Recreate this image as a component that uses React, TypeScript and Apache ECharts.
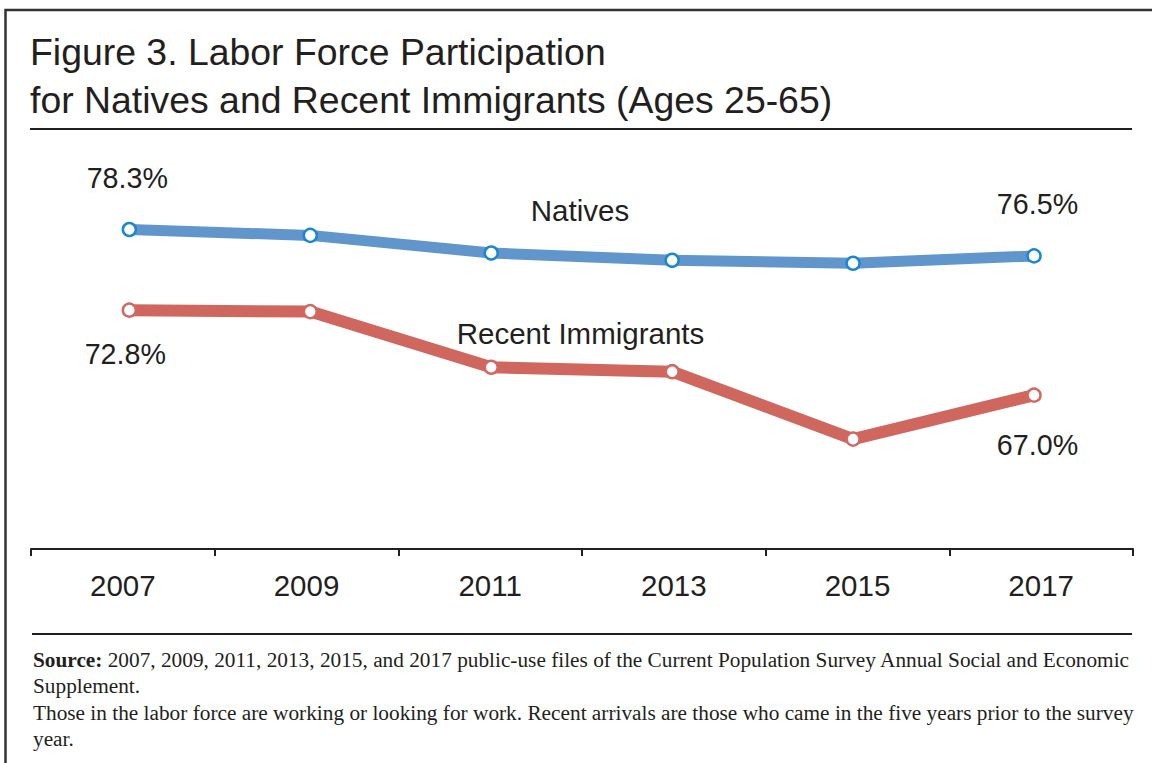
import React, { useEffect, useRef } from "react";
import * as echarts from "echarts";

const years = [2007, 2009, 2011, 2013, 2015, 2017];
const yearLabels = ["2007", "2009", "2011", "2013", "2015", "2017"];
const natives = [78.3, 77.9, 76.7, 76.2, 76.0, 76.5];
const immigrants = [72.8, 72.7, 68.9, 68.6, 64.0, 67.0];
const seriesNames = ["Natives", "Recent Immigrants"];
const titleLines = [
  "Figure 3. Labor Force Participation",
  "for Natives and Recent Immigrants (Ages 25-65)",
];
const sourceLine1 =
  "2007, 2009, 2011, 2013, 2015, and 2017 public-use files of the Current Population Survey Annual Social and Economic";
const sourceLine2 = "Supplement.";
const noteLine1 =
  "Those in the labor force are working or looking for work. Recent arrivals are those who came in the five years prior to the survey";
const noteLine2 = "year.";

const SANS = "'Liberation Sans', Arial, Helvetica, sans-serif";
const SERIF = "'Liberation Serif', 'Times New Roman', serif";
const INK = "#231F20";
const NOTE_SIZE = 21.3;

function buildData(values: number[], firstOffset: number[], lastOffset: number[]) {
  return values.map((v, i) => {
    const item: any = { value: [years[i], v] };
    if (i === 0 || i === values.length - 1) {
      item.label = {
        show: true,
        position: "inside",
        formatter: v.toFixed(1) + "%",
        offset: i === 0 ? firstOffset : lastOffset,
        fontFamily: SANS,
        fontSize: 28.7,
        color: INK,
      };
    }
    return item;
  });
}

export default function App() {
  const ref = useRef<HTMLDivElement>(null);
  useEffect(() => {
    if (!ref.current) return;
    const chart = echarts.init(ref.current, undefined, { renderer: "svg" });
    const option: any = {
      animation: false,
      backgroundColor: "#ffffff",
      grid: { left: 31, right: 19, top: 146, bottom: 214, containLabel: false },
      xAxis: [
        {
          type: "category",
          data: yearLabels,
          boundaryGap: true,
          axisLine: { show: true, lineStyle: { color: INK, width: 2 } },
          axisTick: { show: true, interval: 0, length: 7, lineStyle: { color: INK, width: 2 } },
          axisLabel: { fontFamily: SANS, fontSize: 29.5, color: INK, margin: 21 },
          splitLine: { show: false },
        },
        {
          type: "value",
          show: false,
          min: 2005.913,
          max: 2018.094,
          splitLine: { show: false },
        },
      ],
      yAxis: {
        type: "value",
        show: false,
        min: 56.5,
        max: 84,
        splitLine: { show: false },
      },
      series: [
        {
          name: seriesNames[0],
          type: "line",
          xAxisIndex: 1,
          data: buildData(natives, [-2, -52], [3.5, -52]),
          lineStyle: { color: "#6096CB", width: 11 },
          symbol: "circle",
          symbolSize: 13,
          itemStyle: { color: "#ffffff", borderColor: "#1C87CF", borderWidth: 2.5 },
          label: { show: false },
          z: 3,
        },
        {
          name: seriesNames[1],
          type: "line",
          xAxisIndex: 1,
          data: buildData(immigrants, [-4, 44], [3.5, 50]),
          lineStyle: { color: "#CF675E", width: 12 },
          symbol: "circle",
          symbolSize: 13,
          itemStyle: { color: "#ffffff", borderColor: "#D2685F", borderWidth: 2.5 },
          label: { show: false },
          z: 3,
        },
      ],
      graphic: [
        {
          type: "rect",
          shape: { x: 5.5, y: 10, width: 1300, height: 900 },
          style: { fill: "none", stroke: "#333333", lineWidth: 2.5 },
          silent: true,
        },
        {
          type: "text",
          x: 30,
          y: 52,
          style: { text: titleLines[0], font: `37.4px ${SANS}`, fill: INK, verticalAlign: "middle" },
        },
        {
          type: "text",
          x: 30,
          y: 100,
          style: { text: titleLines[1], font: `37.4px ${SANS}`, fill: INK, verticalAlign: "middle" },
        },
        {
          type: "line",
          shape: { x1: 30, y1: 129, x2: 1132, y2: 129 },
          style: { stroke: INK, lineWidth: 2 },
        },
        {
          type: "text",
          x: 580,
          y: 210,
          style: { text: seriesNames[0], font: `29.5px ${SANS}`, fill: INK, align: "center", verticalAlign: "middle" },
        },
        {
          type: "text",
          x: 580.5,
          y: 333,
          style: { text: seriesNames[1], font: `29.5px ${SANS}`, fill: INK, align: "center", verticalAlign: "middle" },
        },
        {
          type: "line",
          shape: { x1: 32, y1: 634, x2: 1132, y2: 634 },
          style: { stroke: INK, lineWidth: 2 },
        },
        {
          type: "text",
          x: 33,
          y: 660,
          style: {
            text: "{b|Source:} " + sourceLine1,
            fill: INK,
            verticalAlign: "middle",
            font: `${NOTE_SIZE}px ${SERIF}`,
            rich: {
              b: { fontFamily: SERIF, fontSize: NOTE_SIZE, fontWeight: "bold", fill: INK },
            },
          },
        },
        {
          type: "text",
          x: 33,
          y: 686,
          style: { text: sourceLine2, font: `${NOTE_SIZE}px ${SERIF}`, fill: INK, verticalAlign: "middle" },
        },
        {
          type: "text",
          x: 33,
          y: 713,
          style: { text: noteLine1, font: `${NOTE_SIZE}px ${SERIF}`, fill: INK, verticalAlign: "middle" },
        },
        {
          type: "text",
          x: 33,
          y: 739,
          style: { text: noteLine2, font: `${NOTE_SIZE}px ${SERIF}`, fill: INK, verticalAlign: "middle" },
        },
      ],
    };
    chart.setOption(option);
    return () => chart.dispose();
  }, []);
  return (
    <div
      ref={ref}
      style={{ position: "fixed", left: 0, top: 0, width: 1152, height: 763, background: "#fff" }}
    />
  );
}
